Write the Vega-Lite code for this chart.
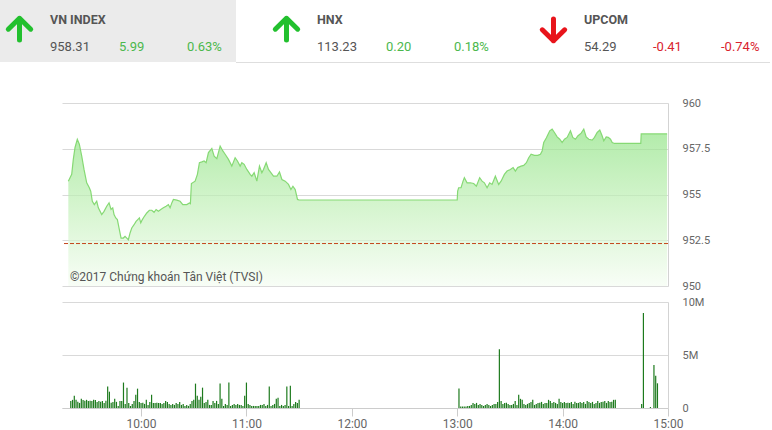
{
  "$schema": "https://vega.github.io/schema/vega-lite/v6.json",
  "padding": 0,
  "autosize": {"type": "pad"},
  "background": "white",
  "spacing": 40,
  "bounds": "flush",
  "config": {"view": {"stroke": null}, "font": "Roboto"},
  "vconcat": [
    {
      "width": 708,
      "height": 63,
      "data": {"values": [
        {"index": "VN INDEX", "price": "958.31", "change": "5.99", "pct": "0.63%", "dir": "up"},
        {"index": "HNX", "price": "113.23", "change": "0.20", "pct": "0.18%", "dir": "up"},
        {"index": "UPCOM", "price": "54.29", "change": "-0.41", "pct": "-0.74%", "dir": "down"}
      ]},
      "layer": [
        {
          "transform": [{"filter": "datum.index === 'VN INDEX'"}],
          "mark": {"type": "rect", "color": "#ebebeb"},
          "encoding": {
            "x": {"field": "index", "type": "nominal", "scale": {"domain": ["VN INDEX", "HNX", "UPCOM"], "range": [-62, 708], "paddingInner": 0.116, "paddingOuter": 0}, "axis": null},
            "y": {"value": 0},
            "y2": {"value": 62}
          }
        },
        {
          "transform": [{"filter": "datum.index === 'VN INDEX'"}],
          "mark": {"type": "rule", "color": "#dedede", "strokeWidth": 1},
          "encoding": {
            "x": {"field": "index", "type": "nominal", "bandPosition": 1, "scale": {"domain": ["VN INDEX", "HNX", "UPCOM"], "range": [-62, 708], "paddingInner": 0.116, "paddingOuter": 0}, "axis": null},
            "x2": {"value": "width"},
            "y": {"value": 62.5}
          }
        },
        {
          "transform": [{"filter": "datum.dir === 'up'"}],
          "mark": {"type": "point", "shape": "M0,0.75L0,-0.8M-0.8,-0.02L0,-0.8L0.8,-0.02", "filled": false, "size": 784, "strokeWidth": 5, "strokeCap": "round", "strokeJoin": "round", "color": "#22c02e", "opacity": 1, "xOffset": 19.5, "yOffset": -2},
          "encoding": {
            "x": {"field": "index", "type": "nominal", "bandPosition": 0, "scale": {"domain": ["VN INDEX", "HNX", "UPCOM"], "range": [-62, 708], "paddingInner": 0.116, "paddingOuter": 0}, "axis": null}
          }
        },
        {
          "transform": [{"filter": "datum.dir === 'down'"}],
          "mark": {"type": "point", "shape": "M0,-0.75L0,0.8M-0.8,0.02L0,0.8L0.8,0.02", "filled": false, "size": 784, "strokeWidth": 5, "strokeCap": "round", "strokeJoin": "round", "color": "#e8141b", "opacity": 1, "xOffset": 19.5, "yOffset": -2},
          "encoding": {
            "x": {"field": "index", "type": "nominal", "bandPosition": 0, "scale": {"domain": ["VN INDEX", "HNX", "UPCOM"], "range": [-62, 708], "paddingInner": 0.116, "paddingOuter": 0}, "axis": null}
          }
        },
        {
          "mark": {"type": "text", "align": "left", "baseline": "alphabetic", "dx": 50, "dy": -7.5, "fontWeight": "bold", "fontSize": 12.5, "color": "#555555", "font": "Roboto"},
          "encoding": {
            "x": {"field": "index", "type": "nominal", "bandPosition": 0, "scale": {"domain": ["VN INDEX", "HNX", "UPCOM"], "range": [-62, 708], "paddingInner": 0.116, "paddingOuter": 0}, "axis": null},
            "text": {"field": "index"}
          }
        },
        {
          "mark": {"type": "text", "align": "left", "baseline": "alphabetic", "dx": 50, "dy": 19, "fontSize": 13, "color": "#555555", "font": "Roboto"},
          "encoding": {
            "x": {"field": "index", "type": "nominal", "bandPosition": 0, "scale": {"domain": ["VN INDEX", "HNX", "UPCOM"], "range": [-62, 708], "paddingInner": 0.116, "paddingOuter": 0}, "axis": null},
            "text": {"field": "price"}
          }
        },
        {
          "mark": {"type": "text", "align": "left", "baseline": "alphabetic", "dx": 119, "dy": 19, "fontSize": 13, "font": "Roboto"},
          "encoding": {
            "x": {"field": "index", "type": "nominal", "bandPosition": 0, "scale": {"domain": ["VN INDEX", "HNX", "UPCOM"], "range": [-62, 708], "paddingInner": 0.116, "paddingOuter": 0}, "axis": null},
            "text": {"field": "change"},
            "color": {"condition": {"test": "datum.dir === 'up'", "value": "#4cb84c"}, "value": "#d9232e"}
          }
        },
        {
          "mark": {"type": "text", "align": "left", "baseline": "alphabetic", "dx": 187, "dy": 19, "fontSize": 13, "font": "Roboto"},
          "encoding": {
            "x": {"field": "index", "type": "nominal", "bandPosition": 0, "scale": {"domain": ["VN INDEX", "HNX", "UPCOM"], "range": [-62, 708], "paddingInner": 0.116, "paddingOuter": 0}, "axis": null},
            "text": {"field": "pct"},
            "color": {"condition": {"test": "datum.dir === 'up'", "value": "#4cb84c"}, "value": "#d9232e"}
          }
        }
      ]
    },
    {
      "spacing": 16,
      "bounds": "flush",
      "vconcat": [
        {
          "width": 606,
          "height": 183,
          "layer": [
            {
              "data": {"values": [
                {"t": "09:18:36", "p": 955.73}, {"t": "09:19:34", "p": 955.92}, {"t": "09:20:32", "p": 956.10}, {"t": "09:21:26", "p": 956.92},
                {"t": "09:22:25", "p": 957.57}, {"t": "09:23:43", "p": 958.02}, {"t": "09:24:52", "p": 957.75}, {"t": "09:26:14", "p": 957.10},
                {"t": "09:27:32", "p": 956.37}, {"t": "09:29:04", "p": 955.64}, {"t": "09:30:33", "p": 955.37}, {"t": "09:31:21", "p": 955.18},
                {"t": "09:32:16", "p": 954.63}, {"t": "09:33:24", "p": 954.45}, {"t": "09:34:46", "p": 954.63}, {"t": "09:35:41", "p": 954.27},
                {"t": "09:37:37", "p": 953.90}, {"t": "09:38:56", "p": 954.08}, {"t": "09:40:28", "p": 954.36}, {"t": "09:41:47", "p": 954.54},
                {"t": "09:42:55", "p": 954.18}, {"t": "09:43:53", "p": 954.27}, {"t": "09:44:38", "p": 953.90}, {"t": "09:45:36", "p": 953.72},
                {"t": "09:46:31", "p": 953.63}, {"t": "09:47:39", "p": 953.08}, {"t": "09:48:37", "p": 952.62}, {"t": "09:49:56", "p": 952.62},
                {"t": "09:50:54", "p": 952.71}, {"t": "09:51:52", "p": 952.62}, {"t": "09:52:47", "p": 952.53}, {"t": "09:53:45", "p": 952.90},
                {"t": "09:54:43", "p": 953.17}, {"t": "09:56:02", "p": 953.35}, {"t": "09:57:10", "p": 953.53}, {"t": "09:58:08", "p": 953.63},
                {"t": "09:59:03", "p": 953.72}, {"t": "09:59:51", "p": 953.45}, {"t": "10:00:45", "p": 953.63}, {"t": "10:01:54", "p": 953.81},
                {"t": "10:03:16", "p": 953.99}, {"t": "10:04:45", "p": 954.14}, {"t": "10:06:07", "p": 954.14}, {"t": "10:07:25", "p": 954.03},
                {"t": "10:08:34", "p": 954.18}, {"t": "10:09:52", "p": 954.08}, {"t": "10:11:14", "p": 954.18}, {"t": "10:12:43", "p": 954.27},
                {"t": "10:14:16", "p": 954.36}, {"t": "10:15:34", "p": 954.45}, {"t": "10:16:32", "p": 954.27}, {"t": "10:17:31", "p": 954.54},
                {"t": "10:18:25", "p": 954.73}, {"t": "10:20:22", "p": 954.69}, {"t": "10:22:14", "p": 954.63}, {"t": "10:23:46", "p": 954.45},
                {"t": "10:26:03", "p": 954.45}, {"t": "10:27:32", "p": 954.54}, {"t": "10:28:06", "p": 954.50}, {"t": "10:28:40", "p": 955.60},
                {"t": "10:30:47", "p": 955.73}, {"t": "10:32:05", "p": 956.10}, {"t": "10:33:14", "p": 956.74}, {"t": "10:34:36", "p": 956.78},
                {"t": "10:35:55", "p": 956.83}, {"t": "10:37:03", "p": 956.74}, {"t": "10:38:22", "p": 957.29}, {"t": "10:40:18", "p": 957.51},
                {"t": "10:41:37", "p": 957.10}, {"t": "10:43:09", "p": 956.96}, {"t": "10:45:02", "p": 957.65}, {"t": "10:46:34", "p": 957.38},
                {"t": "10:47:53", "p": 957.20}, {"t": "10:49:46", "p": 956.92}, {"t": "10:51:41", "p": 956.55}, {"t": "10:53:34", "p": 957.01},
                {"t": "10:54:53", "p": 956.83}, {"t": "10:56:25", "p": 956.55}, {"t": "10:57:23", "p": 956.74}, {"t": "10:58:42", "p": 956.65},
                {"t": "11:00:14", "p": 956.37}, {"t": "11:02:07", "p": 956.10}, {"t": "11:03:05", "p": 956.00}, {"t": "11:04:24", "p": 956.19},
                {"t": "11:05:56", "p": 955.73}, {"t": "11:07:25", "p": 956.55}, {"t": "11:08:47", "p": 956.19}, {"t": "11:09:42", "p": 956.37},
                {"t": "11:11:14", "p": 956.74}, {"t": "11:12:33", "p": 956.37}, {"t": "11:13:55", "p": 956.19}, {"t": "11:15:24", "p": 956.00},
                {"t": "11:17:20", "p": 956.00}, {"t": "11:18:49", "p": 956.23}, {"t": "11:20:11", "p": 955.82}, {"t": "11:22:04", "p": 955.73},
                {"t": "11:23:57", "p": 955.55}, {"t": "11:25:19", "p": 955.27}, {"t": "11:26:28", "p": 955.45}, {"t": "11:27:46", "p": 955.27},
                {"t": "11:29:04", "p": 954.73}, {"t": "11:30:00", "p": 954.70}, {"t": "13:00:00", "p": 954.70},
                {"t": "13:00:15", "p": 955.18}, {"t": "13:00:49", "p": 955.37}, {"t": "13:02:11", "p": 955.37}, {"t": "13:03:19", "p": 955.73},
                {"t": "13:04:04", "p": 955.92}, {"t": "13:05:36", "p": 955.64}, {"t": "13:07:29", "p": 955.64}, {"t": "13:09:22", "p": 955.60},
                {"t": "13:10:54", "p": 955.45}, {"t": "13:12:47", "p": 955.92}, {"t": "13:14:09", "p": 955.73}, {"t": "13:15:28", "p": 955.64},
                {"t": "13:17:00", "p": 955.37}, {"t": "13:18:29", "p": 955.64}, {"t": "13:19:50", "p": 955.55}, {"t": "13:21:43", "p": 956.00},
                {"t": "13:23:36", "p": 955.55}, {"t": "13:24:58", "p": 955.73}, {"t": "13:26:51", "p": 956.10}, {"t": "13:28:23", "p": 956.28},
                {"t": "13:30:16", "p": 956.37}, {"t": "13:31:49", "p": 956.47}, {"t": "13:33:07", "p": 956.28}, {"t": "13:34:26", "p": 956.47},
                {"t": "13:36:22", "p": 956.55}, {"t": "13:37:51", "p": 956.59}, {"t": "13:39:23", "p": 956.74}, {"t": "13:40:42", "p": 957.01},
                {"t": "13:42:04", "p": 957.20}, {"t": "13:43:57", "p": 957.14}, {"t": "13:45:50", "p": 957.14}, {"t": "13:47:22", "p": 957.20},
                {"t": "13:48:20", "p": 957.38}, {"t": "13:49:15", "p": 957.84}, {"t": "13:50:47", "p": 958.10}, {"t": "13:52:40", "p": 958.48},
                {"t": "13:54:02", "p": 958.57}, {"t": "13:55:21", "p": 958.39}, {"t": "13:56:53", "p": 958.15}, {"t": "13:58:22", "p": 958.02},
                {"t": "13:59:44", "p": 957.84}, {"t": "14:01:03", "p": 958.02}, {"t": "14:02:35", "p": 958.12}, {"t": "14:04:28", "p": 958.48},
                {"t": "14:05:47", "p": 958.12}, {"t": "14:07:19", "p": 958.02}, {"t": "14:08:38", "p": 958.20}, {"t": "14:10:34", "p": 958.35},
                {"t": "14:12:03", "p": 958.57}, {"t": "14:13:25", "p": 958.15}, {"t": "14:14:54", "p": 958.02}, {"t": "14:16:50", "p": 957.97},
                {"t": "14:18:09", "p": 958.12}, {"t": "14:19:41", "p": 958.39}, {"t": "14:21:10", "p": 958.52}, {"t": "14:22:32", "p": 958.20},
                {"t": "14:23:27", "p": 957.93}, {"t": "14:24:49", "p": 958.15}, {"t": "14:25:58", "p": 958.12}, {"t": "14:27:16", "p": 958.02},
                {"t": "14:28:14", "p": 957.84}, {"t": "14:29:33", "p": 957.79}, {"t": "14:30:00", "p": 957.79}, {"t": "14:44:30", "p": 957.79},
                {"t": "14:44:45", "p": 958.31}, {"t": "14:59:30", "p": 958.31}
              ], "format": {"parse": {"t": "date:'%H:%M:%S'"}}},
              "mark": {
                "type": "area",
                "clip": true,
                "color": {"x1": 0, "y1": 0, "x2": 0, "y2": 1, "gradient": "linear", "stops": [{"offset": 0, "color": "#90e384"}, {"offset": 0.55, "color": "#c9f2c0"}, {"offset": 1, "color": "#f5fdf3"}]},
                "line": {"color": "#86d974", "strokeWidth": 1.2}
              },
              "encoding": {
                "x": {"field": "t", "type": "temporal", "scale": {"domain": [{"year": 1900, "month": 1, "date": 1, "hours": 9, "minutes": 15}, {"year": 1900, "month": 1, "date": 1, "hours": 15, "minutes": 0}]}, "axis": null},
                "y": {"field": "p", "type": "quantitative", "scale": {"domain": [950, 960], "zero": false, "nice": false},
                  "axis": {"orient": "right", "values": [950, 952.5, 955, 957.5, 960], "format": ".1~f", "grid": true, "gridColor": "#d9d9d9", "ticks": false, "domain": true, "domainColor": "#d3d3d3", "labelPadding": 14, "labelColor": "#666666", "labelFontSize": 11, "labelFont": "Roboto", "title": null}},
                "y2": {"datum": 950}
              }
            },
            {
              "data": {"values": [{"ref": 952.32}]},
              "mark": {"type": "rule", "color": "#c4461c", "strokeDash": [4, 2], "strokeWidth": 1},
              "encoding": {"y": {"field": "ref", "type": "quantitative"}}
            },
            {
              "data": {"values": [{"label": "©2017 Chứng khoán Tân Việt (TVSI)", "t": "09:19:30", "p": 950}], "format": {"parse": {"t": "date:'%H:%M:%S'"}}},
              "mark": {"type": "text", "align": "left", "baseline": "bottom", "dy": -2, "fontSize": 12, "color": "#555555", "font": "Roboto"},
              "encoding": {
                "x": {"field": "t", "type": "temporal"},
                "y": {"field": "p", "type": "quantitative"},
                "text": {"field": "label"}
              }
            }
          ]
        },
        {
          "width": 606,
          "height": 106,
          "data": {"values": [
            {"t": "09:20", "v": 672000}, {"t": "09:21", "v": 768000}, {"t": "09:22", "v": 1152000}, {"t": "09:23", "v": 770000},
            {"t": "09:24", "v": 580000}, {"t": "09:25", "v": 480000}, {"t": "09:26", "v": 865000}, {"t": "09:27", "v": 760000},
            {"t": "09:28", "v": 675000}, {"t": "09:29", "v": 770000}, {"t": "09:30", "v": 670000}, {"t": "09:31", "v": 680000},
            {"t": "09:32", "v": 665000}, {"t": "09:33", "v": 775000}, {"t": "09:34", "v": 760000}, {"t": "09:35", "v": 575000},
            {"t": "09:36", "v": 670000}, {"t": "09:37", "v": 580000}, {"t": "09:38", "v": 672000}, {"t": "09:39", "v": 480000},
            {"t": "09:40", "v": 675000}, {"t": "09:41", "v": 2020000}, {"t": "09:42", "v": 1540000}, {"t": "09:43", "v": 485000},
            {"t": "09:44", "v": 575000}, {"t": "09:45", "v": 865000}, {"t": "09:46", "v": 580000}, {"t": "09:47", "v": 195000},
            {"t": "09:48", "v": 670000}, {"t": "09:49", "v": 660000}, {"t": "09:50", "v": 2400000}, {"t": "09:51", "v": 385000},
            {"t": "09:52", "v": 1920000}, {"t": "09:53", "v": 480000}, {"t": "09:54", "v": 190000}, {"t": "09:55", "v": 385000},
            {"t": "09:56", "v": 672000}, {"t": "09:57", "v": 1250000}, {"t": "09:58", "v": 1825000}, {"t": "09:59", "v": 575000},
            {"t": "10:00", "v": 480000}, {"t": "10:01", "v": 485000}, {"t": "10:02", "v": 385000}, {"t": "10:03", "v": 770000},
            {"t": "10:04", "v": 290000}, {"t": "10:05", "v": 575000}, {"t": "10:06", "v": 1250000}, {"t": "10:07", "v": 480000},
            {"t": "10:08", "v": 480000}, {"t": "10:09", "v": 485000}, {"t": "10:10", "v": 480000}, {"t": "10:11", "v": 475000},
            {"t": "10:12", "v": 385000}, {"t": "10:13", "v": 480000}, {"t": "10:14", "v": 672000}, {"t": "10:15", "v": 575000},
            {"t": "10:16", "v": 385000}, {"t": "10:17", "v": 290000}, {"t": "10:18", "v": 385000}, {"t": "10:19", "v": 290000},
            {"t": "10:20", "v": 480000}, {"t": "10:21", "v": 385000}, {"t": "10:22", "v": 575000}, {"t": "10:23", "v": 290000},
            {"t": "10:24", "v": 385000}, {"t": "10:25", "v": 190000}, {"t": "10:26", "v": 290000}, {"t": "10:27", "v": 195000},
            {"t": "10:28", "v": 385000}, {"t": "10:29", "v": 672000}, {"t": "10:30", "v": 770000}, {"t": "10:31", "v": 2300000},
            {"t": "10:32", "v": 1150000}, {"t": "10:33", "v": 770000}, {"t": "10:34", "v": 1060000}, {"t": "10:35", "v": 1920000},
            {"t": "10:36", "v": 480000}, {"t": "10:37", "v": 575000}, {"t": "10:38", "v": 770000}, {"t": "10:39", "v": 290000},
            {"t": "10:40", "v": 290000}, {"t": "10:41", "v": 672000}, {"t": "10:42", "v": 480000}, {"t": "10:43", "v": 672000},
            {"t": "10:44", "v": 385000}, {"t": "10:45", "v": 2300000}, {"t": "10:46", "v": 865000}, {"t": "10:47", "v": 190000},
            {"t": "10:48", "v": 385000}, {"t": "10:49", "v": 290000}, {"t": "10:50", "v": 2400000}, {"t": "10:51", "v": 190000},
            {"t": "10:52", "v": 290000}, {"t": "10:53", "v": 385000}, {"t": "10:54", "v": 290000}, {"t": "10:55", "v": 385000},
            {"t": "10:56", "v": 290000}, {"t": "10:57", "v": 290000}, {"t": "10:58", "v": 190000}, {"t": "10:59", "v": 1150000},
            {"t": "11:00", "v": 2400000}, {"t": "11:01", "v": 385000}, {"t": "11:02", "v": 290000}, {"t": "11:03", "v": 190000},
            {"t": "11:04", "v": 195000}, {"t": "11:05", "v": 190000}, {"t": "11:06", "v": 190000}, {"t": "11:07", "v": 195000},
            {"t": "11:08", "v": 290000}, {"t": "11:09", "v": 290000}, {"t": "11:10", "v": 385000}, {"t": "11:11", "v": 190000},
            {"t": "11:12", "v": 290000}, {"t": "11:13", "v": 2020000}, {"t": "11:14", "v": 190000}, {"t": "11:15", "v": 290000},
            {"t": "11:16", "v": 385000}, {"t": "11:17", "v": 865000}, {"t": "11:18", "v": 960000}, {"t": "11:19", "v": 190000},
            {"t": "11:20", "v": 290000}, {"t": "11:21", "v": 190000}, {"t": "11:22", "v": 290000}, {"t": "11:23", "v": 2020000},
            {"t": "11:24", "v": 190000}, {"t": "11:25", "v": 2110000}, {"t": "11:26", "v": 190000}, {"t": "11:27", "v": 385000},
            {"t": "11:28", "v": 575000}, {"t": "11:29", "v": 480000}, {"t": "11:30", "v": 770000},
            {"t": "13:01", "v": 1850000}, {"t": "13:02", "v": 145000}, {"t": "13:03", "v": 140000}, {"t": "13:04", "v": 150000},
            {"t": "13:05", "v": 145000}, {"t": "13:06", "v": 190000}, {"t": "13:07", "v": 195000}, {"t": "13:08", "v": 290000},
            {"t": "13:09", "v": 480000}, {"t": "13:10", "v": 385000}, {"t": "13:11", "v": 480000}, {"t": "13:12", "v": 290000},
            {"t": "13:13", "v": 385000}, {"t": "13:14", "v": 290000}, {"t": "13:15", "v": 190000}, {"t": "13:16", "v": 290000},
            {"t": "13:17", "v": 385000}, {"t": "13:18", "v": 290000}, {"t": "13:19", "v": 190000}, {"t": "13:20", "v": 290000},
            {"t": "13:21", "v": 385000}, {"t": "13:22", "v": 380000}, {"t": "13:23", "v": 575000}, {"t": "13:24", "v": 5540000},
            {"t": "13:25", "v": 672000}, {"t": "13:26", "v": 385000}, {"t": "13:27", "v": 480000}, {"t": "13:28", "v": 485000},
            {"t": "13:29", "v": 385000}, {"t": "13:30", "v": 290000}, {"t": "13:31", "v": 290000}, {"t": "13:32", "v": 385000},
            {"t": "13:33", "v": 672000}, {"t": "13:34", "v": 290000}, {"t": "13:35", "v": 1250000}, {"t": "13:36", "v": 865000},
            {"t": "13:37", "v": 770000}, {"t": "13:38", "v": 385000}, {"t": "13:39", "v": 290000}, {"t": "13:40", "v": 385000},
            {"t": "13:41", "v": 480000}, {"t": "13:42", "v": 575000}, {"t": "13:43", "v": 770000}, {"t": "13:44", "v": 290000},
            {"t": "13:45", "v": 385000}, {"t": "13:46", "v": 480000}, {"t": "13:47", "v": 485000}, {"t": "13:48", "v": 575000},
            {"t": "13:49", "v": 385000}, {"t": "13:50", "v": 480000}, {"t": "13:51", "v": 480000}, {"t": "13:52", "v": 770000},
            {"t": "13:53", "v": 672000}, {"t": "13:54", "v": 480000}, {"t": "13:55", "v": 575000}, {"t": "13:56", "v": 480000},
            {"t": "13:57", "v": 385000}, {"t": "13:58", "v": 865000}, {"t": "13:59", "v": 575000}, {"t": "14:00", "v": 480000},
            {"t": "14:01", "v": 575000}, {"t": "14:02", "v": 480000}, {"t": "14:03", "v": 485000}, {"t": "14:04", "v": 480000},
            {"t": "14:05", "v": 575000}, {"t": "14:06", "v": 385000}, {"t": "14:07", "v": 580000}, {"t": "14:08", "v": 480000},
            {"t": "14:09", "v": 480000}, {"t": "14:10", "v": 575000}, {"t": "14:11", "v": 480000}, {"t": "14:12", "v": 575000},
            {"t": "14:13", "v": 385000}, {"t": "14:14", "v": 672000}, {"t": "14:15", "v": 575000}, {"t": "14:16", "v": 480000},
            {"t": "14:17", "v": 575000}, {"t": "14:18", "v": 385000}, {"t": "14:19", "v": 480000}, {"t": "14:20", "v": 672000},
            {"t": "14:21", "v": 480000}, {"t": "14:22", "v": 575000}, {"t": "14:23", "v": 580000}, {"t": "14:24", "v": 672000},
            {"t": "14:25", "v": 480000}, {"t": "14:26", "v": 672000}, {"t": "14:27", "v": 575000}, {"t": "14:28", "v": 580000},
            {"t": "14:29", "v": 770000}, {"t": "14:30", "v": 775000},
            {"t": "14:45", "v": 385000}, {"t": "14:46", "v": 8960000}, {"t": "14:50", "v": 96000}, {"t": "14:52", "v": 4060000},
            {"t": "14:53", "v": 3040000}, {"t": "14:54", "v": 2330000}
          ], "format": {"parse": {"t": "date:'%H:%M'"}}},
          "mark": {"type": "rule", "color": "#1d7a1d", "strokeWidth": 1.2},
          "encoding": {
            "x": {"field": "t", "type": "temporal",
              "scale": {"domain": [{"year": 1900, "month": 1, "date": 1, "hours": 9, "minutes": 15}, {"year": 1900, "month": 1, "date": 1, "hours": 15, "minutes": 0}]},
              "axis": {"values": [
                {"year": 1900, "month": 1, "date": 1, "hours": 10, "minutes": 0},
                {"year": 1900, "month": 1, "date": 1, "hours": 11, "minutes": 0},
                {"year": 1900, "month": 1, "date": 1, "hours": 12, "minutes": 0},
                {"year": 1900, "month": 1, "date": 1, "hours": 13, "minutes": 0},
                {"year": 1900, "month": 1, "date": 1, "hours": 14, "minutes": 0},
                {"year": 1900, "month": 1, "date": 1, "hours": 15, "minutes": 0}
              ], "format": "%H:%M", "grid": false, "title": null, "tickSize": 8, "tickColor": "#cccccc", "domainColor": "#cccccc", "labelColor": "#666666", "labelFontSize": 12, "labelFont": "Roboto", "labelPadding": 2, "labelFlush": false}},
            "y": {"field": "v", "type": "quantitative", "scale": {"domain": [0, 10000000], "nice": false},
              "axis": {"orient": "right", "values": [0, 5000000, 10000000], "format": ".2~s", "grid": true, "gridColor": "#d9d9d9", "ticks": false, "domain": true, "domainColor": "#d3d3d3", "labelPadding": 14, "labelColor": "#666666", "labelFontSize": 11, "labelFont": "Roboto", "title": null}},
            "y2": {"datum": 0}
          }
        }
      ]
    }
  ]
}
